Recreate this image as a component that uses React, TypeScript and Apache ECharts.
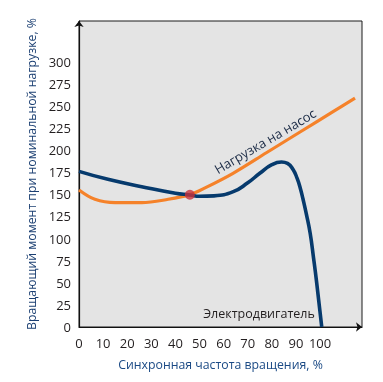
import React, { useEffect, useRef } from "react";
import * as echarts from "echarts";

const xTickLabels = [0, 10, 20, 30, 40, 50, 60, 70, 80, 90, 100];
const yTickLabels = [0, 25, 50, 75, 100, 125, 150, 175, 200, 225, 250, 275, 300];

const motorX = [0, 12, 26, 40, 46, 50, 56, 64, 70, 75, 80, 84, 86.5, 88.8, 90.5, 91.8, 92.9, 94.3, 95.9, 97.3, 98.6, 100.7];
const motorY = [176, 167, 158.7, 151.2, 149.3, 147.8, 148.3, 153, 163, 173.8, 183.5, 186.5, 185, 178, 168, 157, 145, 128, 106, 78, 50, 0];

const loadX = [0, 6.6, 15, 26, 37, 46, 52.3, 63.9, 77.9, 91.7, 105.4, 114.5];
const loadY = [155, 144.4, 140.6, 140.6, 144.4, 149.7, 157.3, 173.8, 197.3, 220.5, 243.5, 258.7];

const pointX = [46];
const pointY = [149.5];

const xAxisName = "Синхронная частота вращения, %";
const yAxisName = "Вращающий момент при номинальной нагрузке, %";
const loadName = "Нагрузка на насос";
const motorName = "Электродвигатель";

const FONT = "'Open Sans', 'Noto Sans', sans-serif";

export default function App() {
  const ref = useRef<HTMLDivElement>(null);
  useEffect(() => {
    if (!ref.current) return;
    const chart = echarts.init(ref.current, null, { renderer: "svg" });
    const zip = (xs: number[], ys: number[]) => xs.map((x, i) => [x, ys[i]]);
    chart.setOption({
      animation: false,
      grid: {
        left: 79,
        right: 21,
        top: 21,
        bottom: 55,
        show: true,
        backgroundColor: "#e4e4e4",
        borderColor: "#1a1a1a",
        borderWidth: 1,
      },
      xAxis: {
        type: "value",
        min: 0,
        max: 117.4,
        interval: 10,
        name: xAxisName,
        nameLocation: "middle",
        nameGap: 31,
        nameTextStyle: { color: "#1b4a85", fontSize: 12.3, fontFamily: FONT },
        axisLine: { show: true, lineStyle: { color: "#111", width: 1.2 }, symbol: ["none", "arrow"], symbolSize: [7, 6] },
        axisTick: { show: false },
        splitLine: { show: false },
        axisLabel: {
          margin: 9,
          color: "#231f20",
          fontSize: 13,
          fontFamily: FONT,
          formatter: (v: number) => (xTickLabels.includes(Math.round(v * 1000) / 1000) ? String(v) : ""),
        },
      },
      yAxis: {
        type: "value",
        min: 0,
        max: 346,
        interval: 25,
        name: yAxisName,
        nameLocation: "middle",
        nameRotate: 90,
        nameGap: 42,
        nameTextStyle: { color: "#1b3f72", fontSize: 12.3, fontFamily: FONT },
        axisLine: { show: true, lineStyle: { color: "#111", width: 1.2 }, symbol: ["none", "arrow"], symbolSize: [7, 6] },
        axisTick: { show: false },
        splitLine: { show: false },
        axisLabel: {
          margin: 8,
          color: "#231f20",
          fontSize: 13,
          fontFamily: FONT,
          formatter: (v: number) => (yTickLabels.includes(Math.round(v * 1000) / 1000) ? String(v) : ""),
        },
      },
      series: [
        {
          type: "line",
          data: zip(loadX, loadY),
          smooth: 0.35,
          showSymbol: false,
          lineStyle: { color: "#f5822a", width: 3.2 },
          z: 2,
        },
        {
          type: "line",
          data: zip(motorX, motorY),
          smooth: 0.5,
          showSymbol: false,
          lineStyle: { color: "#063a6d", width: 3.6 },
          z: 3,
        },
        {
          type: "scatter",
          data: zip(pointX, pointY),
          symbolSize: 10,
          itemStyle: { color: "#c8323c" },
          z: 5,
        },
      ],
      graphic: [
        {
          type: "text",
          x: 265,
          y: 141,
          rotation: (30.4 * Math.PI) / 180,
          style: {
            text: loadName,
            fill: "#1a2a45",
            font: `13px ${FONT}`,
            align: "center",
            verticalAlign: "middle",
          },
          z: 10,
        },
        {
          type: "text",
          x: 259,
          y: 313,
          style: {
            text: motorName,
            fill: "#231f20",
            font: `12.5px ${FONT}`,
            align: "center",
            verticalAlign: "middle",
          },
          z: 10,
        },
      ],
    });
    return () => chart.dispose();
  }, []);
  return <div ref={ref} style={{ position: "fixed", left: 0, top: 0, width: 383, height: 382 }} />;
}
